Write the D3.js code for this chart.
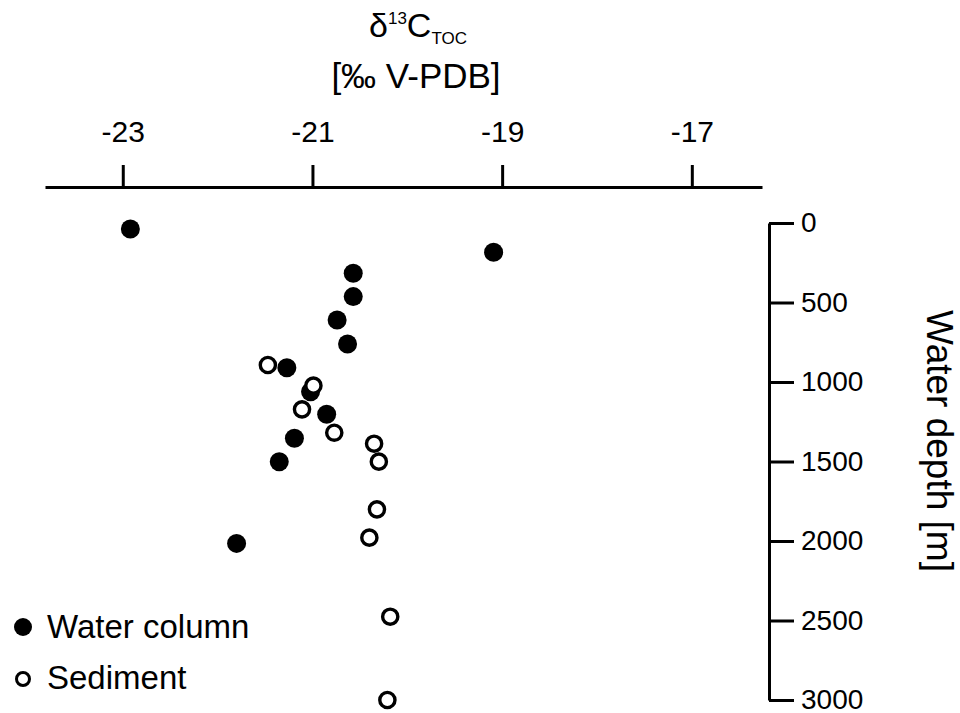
<!DOCTYPE html>
<html>
<head>
<meta charset="utf-8">
<script src="https://cdn.jsdelivr.net/npm/d3@7"></script>
<style>
  body { margin: 0; background: #fff; }
  text { font-family: Arial, "Liberation Sans", sans-serif; fill: #000; }
</style>
</head>
<body>
<svg id="canvas" width="960" height="713"></svg>
<script>
// water column samples
let waterDepth = [38, 184, 316, 463, 610, 761, 910, 1061, 1203, 1354, 1501, 2015]
let waterD13C = [-22.92, -19.09, -20.57, -20.57, -20.74, -20.63, -21.27, -21.02, -20.85, -21.19, -21.35, -21.80]

// sediment samples
let sedDepth = [893, 1023, 1172, 1319, 1388, 1501, 1801, 1979, 2476, 3000]
let sedD13C = [-21.47, -20.99, -21.11, -20.77, -20.35, -20.30, -20.32, -20.40, -20.18, -20.21]

let xTicks = [-23, -21, -19, -17]
let yTicks = [0, 500, 1000, 1500, 2000, 2500, 3000]

let canvas = d3.select('#canvas')

let xScale = d3.scaleLinear().domain([-23.82, -16.26]).range([45, 762])
let yScale = d3.scaleLinear().domain([0, 3000]).range([223, 700])

let drawAxes = () => {
    let xAxis = d3.axisTop(xScale)
        .tickValues(xTicks)
        .tickFormat((d) => String(d))
        .tickSize(22)
        .tickSizeOuter(0)
        .tickPadding(23)

    let gx = canvas.append('g')
        .attr('transform', 'translate(0,187)')
        .call(xAxis)
    gx.selectAll('path, line').attr('stroke', '#000').attr('stroke-width', 3)
    gx.selectAll('text').style('font-size', '30px').attr('font-family', null)

    let yAxis = d3.axisRight(yScale)
        .tickValues(yTicks)
        .tickFormat((d) => String(d))
        .tickSize(25)
        .tickSizeOuter(0)
        .tickPadding(7)

    let gy = canvas.append('g')
        .attr('transform', 'translate(769,0)')
        .call(yAxis)
    gy.selectAll('path, line').attr('stroke', '#000').attr('stroke-width', 3)
    gy.selectAll('text').style('font-size', '28px').attr('font-family', null)

    // title
    let title = canvas.append('text')
        .attr('x', 418)
        .attr('y', 37)
        .attr('text-anchor', 'middle')
        .style('font-size', '34px')
    title.append('tspan').text('δ')
    title.append('tspan').attr('dy', -13).style('font-size', '17px').text('13')
    title.append('tspan').attr('dy', 13).text('C')
    title.append('tspan').attr('dy', 7).style('font-size', '17px').text('TOC')

    canvas.append('text')
        .attr('x', 416)
        .attr('y', 88)
        .attr('text-anchor', 'middle')
        .style('font-size', '35px')
        .text('[‰ V-PDB]')

    canvas.append('text')
        .attr('transform', 'translate(927,441) rotate(90)')
        .attr('text-anchor', 'middle')
        .style('font-size', '37px')
        .text('Water depth [m]')
}

let drawPoints = () => {
    let water = waterDepth.map((d, i) => ({depth: d, value: waterD13C[i]}))
    let sed = sedDepth.map((d, i) => ({depth: d, value: sedD13C[i]}))

    canvas.append('g').selectAll('circle')
        .data(water)
        .enter()
        .append('circle')
        .attr('cx', (p) => xScale(p.value))
        .attr('cy', (p) => yScale(p.depth))
        .attr('r', 9.5)
        .attr('fill', '#000')

    canvas.append('g').selectAll('circle')
        .data(sed)
        .enter()
        .append('circle')
        .attr('cx', (p) => xScale(p.value))
        .attr('cy', (p) => yScale(p.depth))
        .attr('r', 7.6)
        .attr('fill', '#fff')
        .attr('stroke', '#000')
        .attr('stroke-width', 3.4)
}

let drawLegend = () => {
    let legend = canvas.append('g')
    legend.append('circle').attr('cx', 23).attr('cy', 627).attr('r', 9).attr('fill', '#000')
    legend.append('circle').attr('cx', 23).attr('cy', 679).attr('r', 6.5)
        .attr('fill', '#fff').attr('stroke', '#000').attr('stroke-width', 3)
    legend.append('text').attr('x', 47).attr('y', 638).style('font-size', '33px').text('Water column')
    legend.append('text').attr('x', 47).attr('y', 689).style('font-size', '33px').text('Sediment')
}

drawAxes()
drawPoints()
drawLegend()
</script>
</body>
</html>
